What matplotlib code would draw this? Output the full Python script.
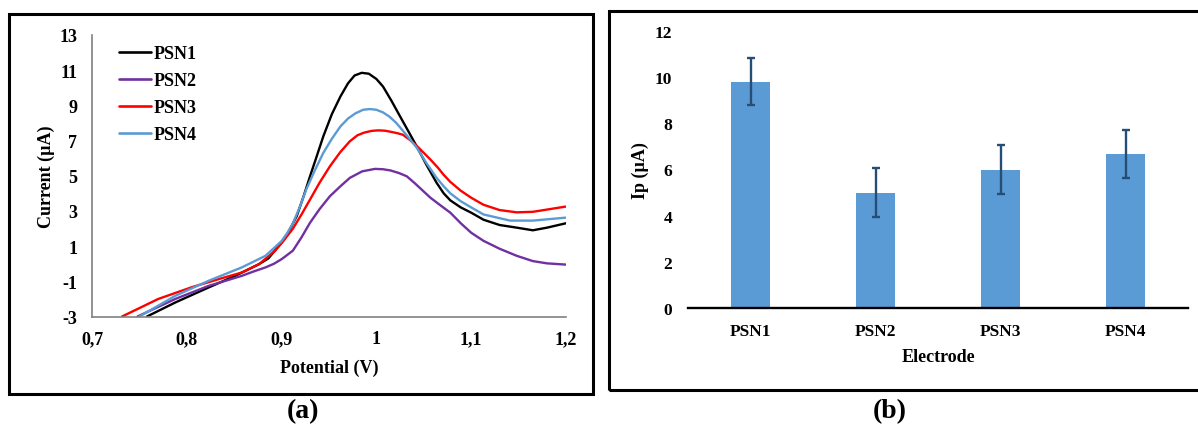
import matplotlib
matplotlib.use("Agg")
import matplotlib.pyplot as plt
from matplotlib.patches import Rectangle

plt.rcParams['font.family'] = ['Liberation Serif', 'DejaVu Serif']
plt.rcParams['font.weight'] = 'bold'
plt.rcParams['axes.unicode_minus'] = False

# ---------------- data: panel (a) ----------------
psn1_v = [0.758, 0.788, 0.823, 0.851, 0.876, 0.886, 0.893, 0.900, 0.907, 0.916, 0.923, 0.930, 0.937,
          0.944, 0.953, 0.962, 0.970, 0.977, 0.9845, 0.992, 1.000, 1.007, 1.016, 1.025, 1.034, 1.0425,
          1.053, 1.0635, 1.071, 1.078, 1.089, 1.100, 1.113, 1.130, 1.148, 1.165, 1.180, 1.200]
psn1_i = [-3.0, -2.2, -1.35, -0.69, -0.03, 0.3, 0.75, 1.2, 1.77, 2.71, 3.8, 4.97, 6.1,
          7.24, 8.5, 9.5, 10.25, 10.7, 10.85, 10.8, 10.5, 10.07, 9.25, 8.37, 7.5, 6.67,
          5.6, 4.6, 4.0, 3.6, 3.2, 2.9, 2.5, 2.2, 2.05, 1.9, 2.05, 2.3]

psn2_v = [0.748, 0.788, 0.823, 0.858, 0.870, 0.883, 0.892, 0.900, 0.906, 0.912, 0.921, 0.930, 0.940,
          0.951, 0.962, 0.972, 0.985, 0.9985, 1.007, 1.015, 1.024, 1.032, 1.040, 1.048, 1.057, 1.068,
          1.078, 1.089, 1.100, 1.113, 1.130, 1.148, 1.165, 1.180, 1.200]
psn2_i = [-3.0, -2.0, -1.26, -0.69, -0.45, -0.21, 0.0, 0.26, 0.5, 0.75, 1.5, 2.33, 3.1,
          3.84, 4.4, 4.88, 5.25, 5.39, 5.37, 5.3, 5.15, 4.97, 4.6, 4.2, 3.75, 3.3,
          2.9, 2.3, 1.76, 1.3, 0.85, 0.45, 0.15, 0.02, -0.05]

psn3_v = [0.7317, 0.770, 0.805, 0.834, 0.858, 0.876, 0.893, 0.902, 0.912, 0.921, 0.930, 0.940, 0.951,
          0.962, 0.972, 0.980, 0.987, 0.995, 1.002, 1.009, 1.015, 1.022, 1.028, 1.035, 1.0425, 1.050,
          1.057, 1.065, 1.071, 1.078, 1.089, 1.100, 1.113, 1.130, 1.148, 1.165, 1.200]
psn3_i = [-3.0, -2.0, -1.34, -0.87, -0.5, -0.03, 0.73, 1.3, 2.0, 2.8, 3.65, 4.6, 5.54,
          6.35, 6.96, 7.3, 7.45, 7.55, 7.58, 7.56, 7.5, 7.42, 7.33, 7.05, 6.7, 6.3,
          5.92, 5.45, 5.05, 4.65, 4.15, 3.75, 3.35, 3.05, 2.92, 2.95, 3.25]

psn4_v = [0.750, 0.788, 0.823, 0.858, 0.883, 0.900, 0.906, 0.912, 0.919, 0.926, 0.935, 0.944, 0.953,
          0.962, 0.970, 0.978, 0.986, 0.993, 1.000, 1.007, 1.014, 1.021, 1.032, 1.0425, 1.053, 1.0635,
          1.071, 1.078, 1.089, 1.100, 1.113, 1.141, 1.165, 1.200]
psn4_i = [-3.0, -1.82, -0.97, -0.21, 0.45, 1.29, 1.75, 2.3, 3.2, 4.22, 5.3, 6.3, 7.1,
          7.8, 8.25, 8.55, 8.75, 8.79, 8.75, 8.6, 8.35, 8.0, 7.3, 6.6, 5.7, 4.88,
          4.4, 4.0, 3.55, 3.2, 2.8, 2.45, 2.45, 2.62]

series_names = ['PSN1', 'PSN2', 'PSN3', 'PSN4']
series_colors = ['#000000', '#7030A0', '#FF0000', '#5B9BD5']

x_ticks = [0.7, 0.8, 0.9, 1.0, 1.1, 1.2]
x_tick_labels = ['0,7', '0,8', '0,9', '1', '1,1', '1,2']
y_ticks_a = [-3, -1, 1, 3, 5, 7, 9, 11, 13]

# ---------------- data: panel (b) ----------------
electrodes = ['PSN1', 'PSN2', 'PSN3', 'PSN4']
ip_values = [9.8, 5.0, 6.0, 6.67]
ip_errors = [1.02, 1.05, 1.05, 1.04]
y_ticks_b = [0, 2, 4, 6, 8, 10, 12]

W, H = 1198, 431
fig = plt.figure(figsize=(W / 100, H / 100), dpi=100)

def fx(px):
    return px / W

def fy(py):
    return 1 - py / H

# frames
fig.add_artist(Rectangle((fx(9), fy(395)), fx(593) - fx(9), fy(15) - fy(395),
                         transform=fig.transFigure, fill=False, lw=2.2, ec='black'))
fig.add_artist(Rectangle((fx(609), fy(390.5)), fx(1205) - fx(609), fy(12) - fy(390.5),
                         transform=fig.transFigure, fill=False, lw=2.2, ec='black', clip_on=False))

# ---------------- panel (a) ----------------
axa = fig.add_axes([fx(92), fy(317.5), fx(566) - fx(92), fy(36) - fy(317.5)])
data = [(psn1_v, psn1_i), (psn2_v, psn2_i), (psn3_v, psn3_i), (psn4_v, psn4_i)]
for (v, i), name, c in zip(data, series_names, series_colors):
    axa.plot(v, i, color=c, lw=1.7, label=name, solid_joinstyle='round', solid_capstyle='round')
axa.set_xlim(0.7, 1.2)
axa.set_ylim(-3, 13)
axa.set_xticks(x_ticks)
axa.set_xticklabels(x_tick_labels)
axa.set_yticks(y_ticks_a)
axa.tick_params(length=0, labelsize=13)
axa.tick_params(axis='y', pad=10.5)
axa.tick_params(axis='x', pad=10)
for s in ['top', 'right']:
    axa.spines[s].set_visible(False)
for s in ['left', 'bottom']:
    axa.spines[s].set_color('#808080')
    axa.spines[s].set_linewidth(1.2)
axa.set_xlabel('Potential (V)', fontsize=13, fontweight='bold')
axa.set_ylabel('Current (µA)', fontsize=13, fontweight='bold')
axa.xaxis.set_label_coords(0.5, (317.5 - 368) / 281.5, transform=axa.transAxes)
axa.yaxis.set_label_coords((46 - 92) / 474, 0.5, transform=axa.transAxes)
axa.xaxis.label.set_va('center')
axa.yaxis.label.set_va('center')
leg = axa.legend(loc='upper left', bbox_to_anchor=(0.058, 0.965), frameon=False,
                 fontsize=13, handlelength=1.75, handletextpad=0.15, labelspacing=0.56,
                 borderpad=0, borderaxespad=0)
for t in leg.get_texts():
    t.set_fontweight('bold')
for h in leg.get_lines():
    h.set_linewidth(1.9)

# ---------------- panel (b) ----------------
axb = fig.add_axes([fx(688), fy(309.3), fx(1188) - fx(688), fy(31.7) - fy(309.3)])
xpos = list(range(len(electrodes)))
axb.bar(xpos, ip_values, width=0.31, color='#5B9BD5', zorder=2)
axb.errorbar(xpos, ip_values, yerr=ip_errors, fmt='none', ecolor='#264D73',
             elinewidth=1.7, capsize=2.8, capthick=1.7, zorder=3)
axb.set_xlim(-0.5, 3.5)
axb.set_ylim(0, 12)
axb.set_yticks(y_ticks_b)
axb.set_xticks(xpos)
axb.set_xticklabels(electrodes)
axb.tick_params(length=0, labelsize=12.5)
axb.tick_params(axis='y', pad=11.5)
axb.tick_params(axis='x', pad=10.5)
for s in ['top', 'right', 'left']:
    axb.spines[s].set_visible(False)
axb.spines['bottom'].set_color('black')
axb.spines['bottom'].set_linewidth(1.7)
axb.spines['bottom'].set_zorder(4)
axb.set_xlabel('Electrode', fontsize=13, fontweight='bold')
axb.set_ylabel('Ip (µA)', fontsize=13, fontweight='bold')
axb.xaxis.set_label_coords(0.5, (309.3 - 357.7) / 277.6, transform=axb.transAxes)
axb.yaxis.set_label_coords((640 - 688) / 500, 0.5, transform=axb.transAxes)
axb.xaxis.label.set_va('center')
axb.yaxis.label.set_va('center')

# panel letters
fig.text(fx(303), fy(412), '(a)', fontsize=20, fontweight='bold', ha='center', va='center')
fig.text(fx(890), fy(412), '(b)', fontsize=20, fontweight='bold', ha='center', va='center')

fig.savefig('out.png', dpi=100)
